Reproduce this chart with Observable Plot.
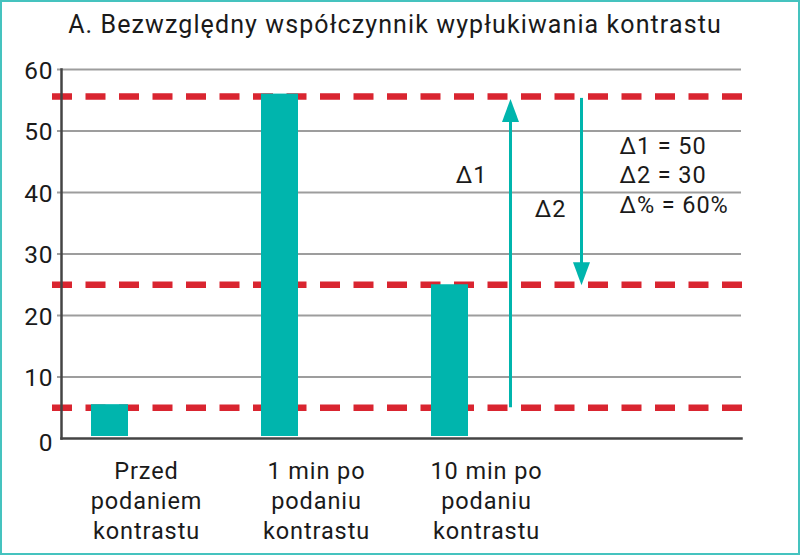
<!DOCTYPE html>
<html>
<head>
<meta charset="utf-8">
<script src="https://cdn.jsdelivr.net/npm/d3@7"></script>
<script src="https://cdn.jsdelivr.net/npm/@observablehq/plot@0.6"></script>
<style>
  html, body { margin: 0; padding: 0; background: #fff; }
  #wrap { position: relative; width: 800px; height: 555px; border: 2px solid #45c3bf; box-sizing: border-box; background: #fff; font-family: Roboto, sans-serif; }
  #title { position: absolute; top: 10px; left: 0; width: 796px; text-align: center; font-size: 25px; line-height: 25px; letter-spacing: 1.1px; color: #1a1a1a; padding-right: 10px; box-sizing: border-box; }
  #chart { position: absolute; top: 46px; left: 0; }
</style>
</head>
<body>
<div id="wrap">
  <div id="title">A. Bezwzględny współczynnik wypłukiwania kontrastu</div>
  <div id="chart"></div>
</div>
<script>
// ---- data ----
const categories = ["Przed\npodaniem\nkontrastu", "1 min po\npodaniu\nkontrastu", "10 min po\npodaniu\nkontrastu", ""];
const values = [5.5, 56, 25];
const refLevels = [5, 25, 55.6];
const yTicks = [10, 20, 30, 40, 50, 60];
const yZeroTick = [0];
const gridTicks = [10, 20, 30, 40, 50, 60];
// arrows (value units): Δ1 rises from 5 to top level, Δ2 falls from top level to 25
const delta1 = {from: 5, to: 55.2};
const delta2 = {from: 55.3, to: 24.9};
// annotation texts and their heights (value units)
const delta1Label = {text: "Δ1", y: 41.5};
const delta2Label = {text: "Δ2", y: 36.0};
const summaryLines = ["Δ1 = 50", "Δ2 = 30", "Δ% = 60%"];
const summaryY = [46.3, 41.5, 36.6];

const bars = values.map((v, i) => ({cat: categories[i], value: v}));
const anchorCat = categories[2];

const teal = "#00b5ad";
const red = "#d92530";

const triUp = {draw(ctx) { ctx.moveTo(0, 0); ctx.lineTo(-8.5, 23); ctx.lineTo(8.5, 23); ctx.closePath(); }};

const chart = Plot.plot({
  width: 796,
  height: 505,
  marginLeft: 59,
  marginRight: 57,
  marginTop: 21,
  marginBottom: 115,
  style: {fontFamily: "Roboto, sans-serif", fontSize: "23.5px", letterSpacing: "0.9px", color: "#1a1a1a", background: "#fff", overflow: "visible"},
  x: {type: "band", domain: categories, padding: 0, label: null},
  y: {domain: [0, 60], label: null},
  marks: [
    Plot.ruleY(gridTicks, {stroke: "#9d9d9d", strokeWidth: 2, insetLeft: -4}),
    Plot.ruleY(refLevels, {stroke: red, strokeWidth: 6.5, strokeDasharray: "20,13.5", insetLeft: -9, insetRight: -2}),
    Plot.barY(bars, {x: "cat", y: "value", fill: teal, insetLeft: 30, insetRight: 103, insetBottom: 2}),
    Plot.frame({anchor: "left", stroke: "#444", strokeWidth: 2.5}),
    Plot.frame({anchor: "bottom", stroke: "#444", strokeWidth: 2.5}),
    Plot.axisY({ticks: yTicks, tickSize: 0, tickPadding: 8, fontSize: 24.5, dy: 1.5, label: null}),
    Plot.axisY({ticks: yZeroTick, tickSize: 0, tickPadding: 8, fontSize: 24.5, dy: 4.5, label: null}),
    Plot.axisX({tickSize: 0, tickPadding: 19, fontSize: 23.5, lineHeight: 1.28, label: null}),
    // Δ1 arrow (y1 = upper end so the inset trims under the head)
    Plot.ruleX([delta1], {x: () => anchorCat, y1: "to", y2: "from", stroke: teal, strokeWidth: 3, dx: 24, insetTop: 12}),
    Plot.dot([delta1], {x: () => anchorCat, y: "to", symbol: triUp, fill: teal, stroke: null, dx: 24}),
    // Δ2 arrow
    Plot.ruleX([delta2], {x: () => anchorCat, y1: "from", y2: "to", stroke: teal, strokeWidth: 3, dx: 95, insetBottom: 12}),
    Plot.dot([delta2], {x: () => anchorCat, y: "to", symbol: triUp, rotate: 180, fill: teal, stroke: null, dx: 95}),
    // labels
    Plot.text([delta1Label], {x: () => anchorCat, y: "y", text: "text", dx: -15, lineAnchor: "bottom", fontSize: 23.5, fill: "#1a1a1a"}),
    Plot.text([delta2Label], {x: () => anchorCat, y: "y", text: "text", dx: 64, lineAnchor: "bottom", fontSize: 23.5, fill: "#1a1a1a"}),
    Plot.text(summaryLines, {x: () => anchorCat, y: (d, i) => summaryY[i], text: d => d, dx: 133, textAnchor: "start", lineAnchor: "bottom", fontSize: 23.5, fill: "#1a1a1a"})
  ]
});
document.getElementById("chart").appendChild(chart);
</script>
</body>
</html>
